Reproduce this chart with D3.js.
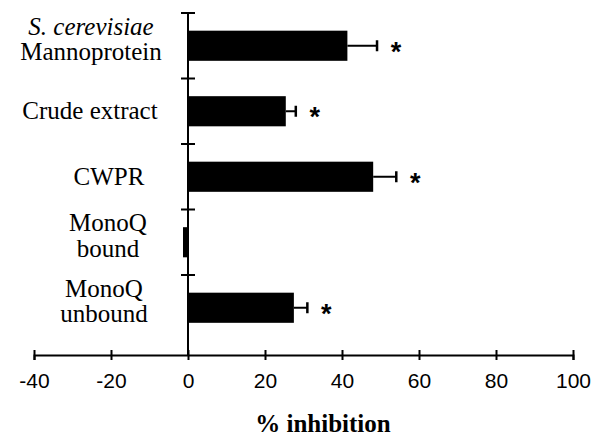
<!DOCTYPE html>
<html>
<head>
<meta charset="utf-8">
<script src="https://cdn.jsdelivr.net/npm/d3@7"></script>
<style>
  body { margin: 0; background: #fff; }
</style>
</head>
<body>
<div id="chart"></div>
<script>
// data
const categories = ["mannoprotein", "crude", "cwpr", "monoqBound", "monoqUnbound"];
const labelLines = [
    ["S. cerevisiae", "Mannoprotein"],
    ["Crude extract"],
    ["CWPR"],
    ["MonoQ", "bound"],
    ["MonoQ", "unbound"]
];
const inhibition = [41.4, 25.4, 48.1, -1.3, 27.5];
const sem = [7.7, 2.6, 6.0, 0, 3.5];
const significant = [true, true, true, false, true];
const xTicks = [-40, -20, 0, 20, 40, 60, 80, 100];

const width = 596, height = 440;

const svg = d3.select("#chart")
    .append("svg")
    .attr("width", width)
    .attr("height", height);

const x = d3.scaleLinear().domain([-40, 100]).range([34, 573]);
const y = d3.scaleBand()
    .domain(categories)
    .range([13, 340.5])
    .paddingInner(0.54)
    .paddingOuter(0.27);

const axisY = 355;

// bars
svg.selectAll("rect.bar")
    .data(categories)
    .join("rect")
    .attr("class", "bar")
    .attr("x", (d, i) => x(Math.min(0, inhibition[i])))
    .attr("y", d => y(d))
    .attr("width", (d, i) => Math.abs(x(inhibition[i]) - x(0)))
    .attr("height", y.bandwidth())
    .attr("fill", "#000");

// error bars (one-sided, pointing away from zero)
const errs = svg.append("g");
categories.forEach(function(c, i) {
    if (!sem[i]) return;
    const cy = y(c) + y.bandwidth() / 2;
    const x0 = x(inhibition[i]), x1 = x(inhibition[i] + sem[i]);
    errs.append("line")
        .attr("x1", x0).attr("x2", x1)
        .attr("y1", cy).attr("y2", cy)
        .attr("stroke", "#000").attr("stroke-width", 2);
    errs.append("line")
        .attr("x1", x1).attr("x2", x1)
        .attr("y1", cy - 5.5).attr("y2", cy + 5.5)
        .attr("stroke", "#000").attr("stroke-width", 2.5);
});

// asterisks
svg.selectAll("text.star")
    .data(categories.filter((c, i) => significant[i]))
    .join("text")
    .attr("class", "star")
    .attr("x", d => x(inhibition[categories.indexOf(d)] + sem[categories.indexOf(d)]) + 19)
    .attr("y", d => y(d) + y.bandwidth() / 2 + 15)
    .attr("text-anchor", "middle")
    .attr("font-family", "'Liberation Sans', Arial, sans-serif")
    .attr("font-weight", "bold")
    .attr("font-size", "27px")
    .text("*");

// y axis: line plus ticks at the band boundaries
svg.append("line")
    .attr("x1", x(0)).attr("x2", x(0))
    .attr("y1", y.range()[0]).attr("y2", axisY)
    .attr("stroke", "#000").attr("stroke-width", 2);

svg.selectAll("line.ytick")
    .data(categories)
    .join("line")
    .attr("class", "ytick")
    .attr("x1", x(0) - 7).attr("x2", x(0) + 7)
    .attr("y1", (d, i) => y.range()[0] + i * y.step())
    .attr("y2", (d, i) => y.range()[0] + i * y.step())
    .attr("stroke", "#000").attr("stroke-width", 2);

// category labels, centred on their own column
const labelCenter = [91, 90, 109, 108, 104];
const labels = svg.append("g")
    .attr("font-family", "'Liberation Serif', 'Times New Roman', serif")
    .attr("font-size", "25px")
    .attr("text-anchor", "middle")
    .attr("fill", "#000");
categories.forEach(function(c, i) {
    const lines = labelLines[i];
    const cy = y(c) + y.bandwidth() / 2;
    const first = lines.length === 1 ? cy + 8 : cy - 11;
    const t = labels.append("text");
    lines.forEach(function(line, j) {
        t.append("tspan")
            .attr("x", labelCenter[i])
            .attr("y", first + j * 25.5)
            .attr("font-style", i === 0 && j === 0 ? "italic" : null)
            .text(line);
    });
});

// x axis
const xAxis = svg.append("g")
    .attr("transform", `translate(0,${axisY})`)
    .call(d3.axisBottom(x).tickValues(xTicks).tickFormat(d => String(d)).tickSizeOuter(0).tickSize(5));

xAxis.select(".domain").attr("stroke-width", 2);
xAxis.selectAll(".tick line")
    .attr("y1", -5).attr("y2", 5)
    .attr("stroke-width", 2);
xAxis.selectAll(".tick text")
    .attr("y", 33).attr("dy", 0)
    .attr("font-family", "'Liberation Sans', Arial, sans-serif")
    .attr("font-size", "21px")
    .attr("fill", "#000");

// axis title
svg.append("text")
    .attr("x", 323)
    .attr("y", 432)
    .attr("text-anchor", "middle")
    .attr("font-family", "'Liberation Serif', 'Times New Roman', serif")
    .attr("font-weight", "bold")
    .attr("font-size", "25px")
    .text("% inhibition");
</script>
</body>
</html>
